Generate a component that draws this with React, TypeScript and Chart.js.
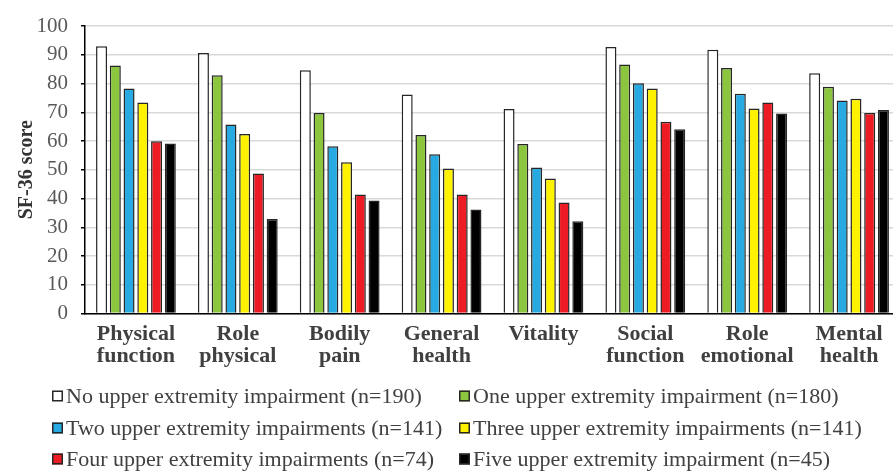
import React, { useEffect, useRef } from 'react';
import { Chart, registerables } from 'chart.js';

Chart.register(...registerables);

const categories: string[][] = [
  ['Physical', 'function'],
  ['Role', 'physical'],
  ['Bodily', 'pain'],
  ['General', 'health'],
  ['Vitality'],
  ['Social', 'function'],
  ['Role', 'emotional'],
  ['Mental', 'health'],
];

const seriesNames = [
  'No upper extremity impairment (n=190)',
  'One upper extremity impairment (n=180)',
  'Two upper extremity impairments (n=141)',
  'Three upper extremity impairments (n=141)',
  'Four upper extremity impairments (n=74)',
  'Five upper extremity impairment (n=45)',
];

const noImpairment = [93.0, 90.6, 84.6, 76.2, 71.1, 92.7, 91.7, 83.6];
const oneImpairment = [86.3, 82.9, 69.7, 62.1, 59.0, 86.6, 85.4, 78.9];
const twoImpairments = [78.3, 65.7, 58.2, 55.4, 50.8, 80.1, 76.4, 74.1];
const threeImpairments = [73.4, 62.4, 52.6, 50.4, 47.0, 78.3, 71.3, 74.7];
const fourImpairments = [59.9, 48.7, 41.4, 41.4, 38.6, 66.7, 73.4, 69.7];
const fiveImpairments = [59.1, 32.9, 39.3, 36.2, 32.1, 64.1, 69.6, 70.8];

const yTickValues = [0, 10, 20, 30, 40, 50, 60, 70, 80, 90, 100];
const yTitle = 'SF-36 score';

const seriesColors = ['#ffffff', '#8cc63e', '#27aae1', '#fff200', '#ed1c24', '#000000'];

const SERIF = '"Liberation Serif", "Times New Roman", serif';

const gridLegendPlugin = {
  id: 'gridLegend',
  afterDraw(chart: any) {
    const ctx = chart.ctx as CanvasRenderingContext2D;
    ctx.save();
    ctx.font = `22px ${SERIF}`;
    ctx.textBaseline = 'middle';
    ctx.textAlign = 'left';
    const rowY = [396, 428, 459];
    const colX = [52, 459];
    const box = 11;
    chart.data.datasets.forEach((ds: any, i: number) => {
      const col = i % 2;
      const row = Math.floor(i / 2);
      const x = colX[col];
      const y = rowY[row];
      ctx.fillStyle = ds.backgroundColor;
      ctx.fillRect(x, y - box / 2, box, box);
      ctx.lineWidth = 1.5;
      ctx.strokeStyle = '#262626';
      ctx.strokeRect(x + 0.75, y - box / 2 + 0.75, box - 1.5, box - 1.5);
      ctx.fillStyle = '#404040';
      ctx.fillText(ds.label, x + box + 3, y + 1);
    });
    ctx.restore();
  },
};

export default function App() {
  const canvasRef = useRef<HTMLCanvasElement | null>(null);

  useEffect(() => {
    document.body.style.margin = '0';
    const canvas = canvasRef.current;
    if (!canvas) return;
    const values = [noImpairment, oneImpairment, twoImpairments, threeImpairments, fourImpairments, fiveImpairments];
    const chart = new Chart(canvas, {
      type: 'bar',
      data: {
        labels: categories as any,
        datasets: values.map((v, i) => ({
          label: seriesNames[i],
          data: v,
          backgroundColor: seriesColors[i],
          borderColor: '#262626',
          borderWidth: 1.5,
          categoryPercentage: 0.81,
          barPercentage: 0.8,
        })),
      },
      options: {
        responsive: false,
        animation: false,
        devicePixelRatio: 1,
        layout: { padding: { top: 26, right: 0, bottom: 99.5, left: 0 } },
        plugins: {
          legend: { display: false },
          tooltip: { enabled: false },
        },
        scales: {
          x: {
            grid: { color: 'rgba(0,0,0,0)', drawTicks: false },
            border: { color: '#000000', width: 1.5 },
            ticks: {
              color: '#404040',
              font: { family: SERIF, size: 22, weight: 'bold', lineHeight: 1 },
              padding: 10,
              maxRotation: 0,
              autoSkip: false,
            },
            afterFit: (s: any) => {
              s.height = 58;
            },
          },
          y: {
            min: 0,
            max: 100,
            afterBuildTicks: (s: any) => {
              s.ticks = yTickValues.map((v) => ({ value: v }));
            },
            grid: {
              color: '#d9d9d9',
              lineWidth: 1.5,
              drawTicks: true,
              tickLength: 4,
              tickColor: '#000000',
              tickWidth: 1.5,
            },
            border: { color: '#000000', width: 1.5 },
            ticks: {
              color: '#595959',
              font: { family: SERIF, size: 21 },
              padding: 13,
            },
            title: {
              display: true,
              text: yTitle,
              color: '#333333',
              font: { family: SERIF, size: 20, weight: 'bold', lineHeight: 1.2 },
              padding: { top: 15, bottom: 0 },
            },
            afterFit: (s: any) => {
              s.width = 85;
            },
          },
        },
      },
      plugins: [gridLegendPlugin],
    });
    return () => chart.destroy();
  }, []);

  return (
    <div style={{ width: 893, height: 471, overflow: 'hidden', background: '#ffffff' }}>
      <canvas ref={canvasRef} width={900} height={471} style={{ display: 'block', width: 900, height: 471 }} />
    </div>
  );
}
